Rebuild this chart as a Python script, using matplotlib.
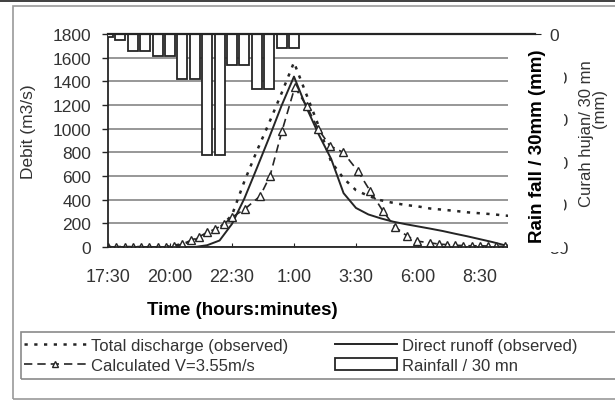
import numpy as np
import matplotlib.pyplot as plt
from matplotlib.lines import Line2D
from matplotlib.patches import Rectangle

plt.rcParams["font.family"] = ["Liberation Sans", "DejaVu Sans"]

W, H = 615, 402

# x axis: hours after 17:30
tick_hours = [0, 2.5, 5, 7.5, 10, 12.5, 15]
tick_labels = ["17:30", "20:00", "22:30", "1:00", "3:30", "6:00", "8:30"]

# observed hydrograph (m3/s), one value every 30 mn from 17:30
total_discharge = [0, 0, 0, 0, 0, 5, 25, 60, 105, 160, 270, 555, 810, 1050, 1300, 1560,
                   1290, 1020, 720, 580, 480, 432, 395, 373, 355, 343, 325, 315, 305,
                   293, 285, 277, 266, 258, 250]
direct_runoff = [0, 0, 0, 0, 0, 0, 0, 0, 15, 55, 195, 410, 665, 925, 1195, 1440,
                 1180, 950, 744, 455, 330, 275, 242, 214, 193, 174, 155, 135, 112,
                 90, 66, 42, 15, 5, 0]

# rainfall per 30 mn (mm), from 17:30
rainfall = [0.7, 1.4, 4.0, 4.0, 5.1, 5.1, 10.6, 10.6, 28.4, 28.4, 7.3, 7.3,
            12.9, 12.9, 3.3, 3.3]

# calculated hydrograph, V = 3.55 m/s (minutes after 17:30, m3/s)
calc_minutes = [0, 20, 40, 60, 80, 100, 120, 140, 160, 180, 200, 220, 240, 260, 280,
                300, 331, 368, 392, 421, 452, 481, 508, 537, 569, 605, 634, 665, 694,
                723, 747, 780, 800, 820, 840, 860, 880, 900, 920, 940, 960]
calc_flow = [0, 0, 0, 0, 0, 0, 0, 0, 5, 25, 55, 85, 125, 152, 194,
             251, 321, 430, 600, 980, 1350, 1190, 1000, 855, 800, 640, 475, 305, 170,
             95, 50, 35, 25, 20, 15, 12, 10, 10, 8, 5, 5]

INK = "#252525"
TXT = "#333333"


def px_box(x0, y0, x1, y1):
    # pixel box (top-left origin) -> figure fraction rect
    return [x0 / W, 1 - y1 / H, (x1 - x0) / W, (y1 - y0) / H]


fig = plt.figure(figsize=(W / 100, H / 100), dpi=100)

# scanned page frame
fig.add_artist(Rectangle((13 / W, 1 - 400 / H), (640 - 13) / W, (400 - 7) / H,
                         transform=fig.transFigure, fill=False,
                         edgecolor="#9a9a9a", lw=1.2))
fig.add_artist(Rectangle((0, 1 - 2.5 / H), 1, 2.5 / H, transform=fig.transFigure,
                         color="#444444", lw=0))

ax = fig.add_axes(px_box(108, 35, 535, 248))
obs_hours = np.arange(len(total_discharge)) * 0.5
ax.plot(obs_hours, total_discharge, color=INK, lw=1.8, ls=(0, (1.3, 2.6)))
ax.plot(obs_hours, direct_runoff, color=INK, lw=1.4)
ax.plot(np.array(calc_minutes) / 60, calc_flow, color=INK, lw=1.2, ls=(0, (5, 3)),
        marker="^", ms=5.5, mfc="white", mec=INK, mew=1.0)

ax.set_xlim(0, 17.22)
ax.set_ylim(0, 1800)
ax.set_yticks(range(0, 1801, 200))
ax.set_xticks(tick_hours, tick_labels)
ax.grid(axis="y", color="#7a7a7a", lw=1.1)
ax.set_axisbelow(True)
ax.tick_params(axis="y", direction="out", length=4, width=1, pad=8,
               labelsize=12.5, colors=INK, labelcolor=TXT)
ax.tick_params(axis="x", direction="in", length=3, pad=15,
               labelsize=13, colors=INK, labelcolor=TXT)
for s in ["left", "bottom"]:
    ax.spines[s].set_color(INK)
    ax.spines[s].set_linewidth(1.3)
ax.spines["right"].set_visible(False)
ax.spines["top"].set_visible(False)

# rainfall hanging from the top, secondary axis reversed
ax2 = ax.twinx()
ax2.bar(np.arange(len(rainfall)) * 0.5, rainfall, width=0.4, color="white",
        edgecolor=INK, lw=1.3)
ax2.set_ylim(50, 0)
ax2.set_yticks(range(0, 51, 10))
ax2.tick_params(axis="y", direction="out", length=4, pad=6, labelsize=12.5,
                colors=INK, labelcolor=TXT)
ax2.spines["top"].set_color(INK)
ax2.spines["top"].set_linewidth(1.6)
for s in ["left", "bottom", "right"]:
    ax2.spines[s].set_visible(False)

fig.text(29 / W, 1 - 132 / H, "Debit (m3/s)", rotation=90, ha="center", va="center",
         fontsize=12.5, color=TXT)
fig.text(586 / W, 1 - 134 / H, "Curah hujan/ 30 mn", rotation=90, ha="center",
         va="center", fontsize=12, color=TXT)
fig.text(600 / W, 1 - 108 / H, "(mm)", rotation=90, ha="center", va="center",
         fontsize=12, color=TXT)

# pasted-over label
fig.add_artist(Rectangle((508 / W, 1 - 253 / H), 56 / W, 211 / H,
                         transform=fig.transFigure, color="white", lw=0, zorder=10))
fig.text(538 / W, 1 - 146 / H, "Rain fall / 30mm (mm)", rotation=90, ha="center",
         va="center", fontsize=13.5, fontweight="bold", color="black", zorder=11)
fig.text(242 / W, 1 - 311 / H, "Time (hours:minutes)", ha="center", va="center",
         fontsize=13.5, fontweight="bold", color="black")

# legend
fig.add_artist(Rectangle((21 / W, 1 - 380 / H), (630 - 21) / W, 47 / H,
                         transform=fig.transFigure, fill=False,
                         edgecolor="#8a8a8a", lw=1.2))
handles = [
    Line2D([], [], color=INK, lw=1.8, ls=(0, (1.3, 2.6))),
    Line2D([], [], color=INK, lw=1.2, ls=(0, (5, 3)), marker="^", ms=5,
           mfc="white", mec=INK),
    Line2D([], [], color=INK, lw=1.4),
    Rectangle((0, 0), 1, 1, facecolor="white", edgecolor=INK, lw=1.3),
]
labels = ["Total discharge (observed)", "Calculated V=3.55m/s",
          "Direct runoff (observed)", "Rainfall / 30 mn"]
fig.legend(handles, labels, ncol=2, loc="upper left",
           bbox_to_anchor=(24 / W, 1 - 339 / H), frameon=False, fontsize=12,
           handlelength=3.7, handletextpad=0.3, columnspacing=2.85,
           labelspacing=0.3, borderpad=0, borderaxespad=0, numpoints=1,
           labelcolor=TXT)

fig.savefig("out.png", dpi=100)
